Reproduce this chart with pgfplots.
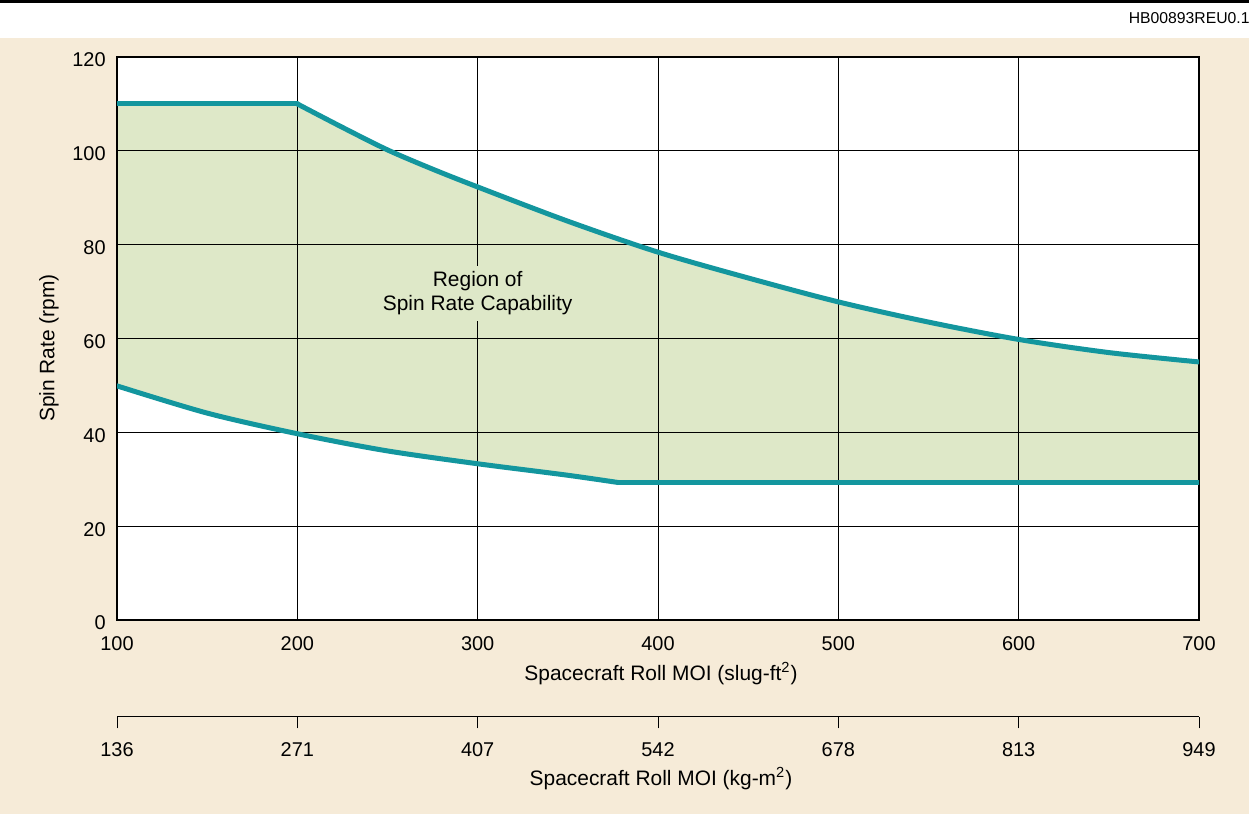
\documentclass[border=0pt]{standalone}
\usepackage{fontspec}
\setmainfont{Liberation Sans}
\usepackage{pgfplots}
\pgfplotsset{compat=1.18}
\definecolor{beige}{RGB}{246,235,216}
\definecolor{regfill}{RGB}{222,232,200}
\definecolor{tealc}{RGB}{19,150,158}
\pgfplotsset{common/.style={at={(0,0)}, anchor=south west, scale only axis,
  width=541bp, height=281.5bp, xmin=100, xmax=700, ymin=0, ymax=120}}
\begin{document}
\begin{tikzpicture}
\useasboundingbox (-58.5bp,-97bp) rectangle (566bp,310bp);
\fill[beige] (-58.5bp,-97bp) rectangle (566bp,291.15bp);
\fill[black] (-58.5bp,308.65bp) rectangle (566bp,310bp);
\node[anchor=base east, inner sep=0pt, font=\fontsize{7.9}{9}\selectfont] at (566.5bp,298bp) {HB00893REU0.1};

\begin{axis}[common, axis on top,
  axis background/.style={fill=white},
  xtick={100,200,...,700}, ytick={0,20,...,120},
  grid=major, major grid style={black, line width=0.5bp},
  major tick length=0pt,
  axis line style={line width=0.75bp},
  tick label style={font=\fontsize{10}{12}\selectfont, inner sep=0pt},
  /pgf/number format/assume math mode=true,
  xticklabel style={anchor=center, yshift=-11.85bp},
  yticklabel style={anchor=east, xshift=-5.5bp, yshift=-1.5bp},
  xlabel={Spacecraft Roll MOI (slug-ft\textsuperscript{2})},
  ylabel={Spin Rate (rpm)},
  label style={font=\fontsize{10.5}{12.6}\selectfont},
  xlabel style={at={(axis description cs:0.5,0)}, anchor=base, yshift=-30.3bp, xshift=1.5bp},
  ylabel style={at={(axis description cs:-0.05795,0.483)}, anchor=base}]
\addplot[fill=regfill, draw=none] coordinates {
  (100,110) (200,110) (225,105.0) (250,100.2) (275,96.1) (300,92.3) (350,85.0)
  (400,78.4) (450,72.9) (500,67.8) (550,63.5) (600,59.8) (650,57.0) (700,55.0)
  (700,29.3) (378,29.3) (349,30.9) (300,33.3) (249,36.1) (200,39.7) (150,44.1) (100,49.9)};
\end{axis}

\begin{axis}[common, hide axis]
\addplot[tealc, line width=2.5bp, line cap=round, line join=round] coordinates {(100,110) (200,110)};
\addplot[tealc, line width=2.5bp, line cap=round, smooth] coordinates {
  (200,110) (225,105.0) (250,100.2) (275,96.1) (300,92.3) (350,85.0)
  (400,78.4) (450,72.9) (500,67.8) (550,63.5) (600,59.8) (650,57.0) (700,55.0)};
\addplot[tealc, line width=2.5bp, line cap=round, smooth] coordinates {
  (100,49.9) (150,44.1) (200,39.7) (249,36.1) (300,33.3) (349,30.9) (378,29.3)};
\addplot[tealc, line width=2.5bp, line cap=round] coordinates {(378,29.3) (700,29.3)};
\node[fill=regfill, align=center, inner sep=3bp, font=\fontsize{10.5}{12.15}\selectfont]
  at (axis cs:300,69.6) {Region of\\Spin Rate Capability};
\end{axis}

\begin{axis}[at={(0,-48.35bp)}, anchor=south west, scale only axis,
  width=541bp, height=10bp, xmin=100, xmax=700, ymin=0, ymax=1,
  hide y axis, axis x line*=bottom,
  xtick={100,200,...,700}, xticklabels={136,271,407,542,678,813,949},
  tick align=outside, major tick length=5.8bp,
  axis line style={line width=0.5bp},
  every tick/.style={black, line width=0.5bp},
  tick label style={font=\fontsize{10}{12}\selectfont, inner sep=0pt},
  xticklabel style={anchor=center, yshift=-10.7bp},
  xlabel={Spacecraft Roll MOI (kg-m\textsuperscript{2})},
  xlabel style={font=\fontsize{10.5}{12.6}\selectfont, at={(axis description cs:0.5,0)}, anchor=base, yshift=-34.5bp, xshift=1.5bp}]
\end{axis}
\end{tikzpicture}
\end{document}
